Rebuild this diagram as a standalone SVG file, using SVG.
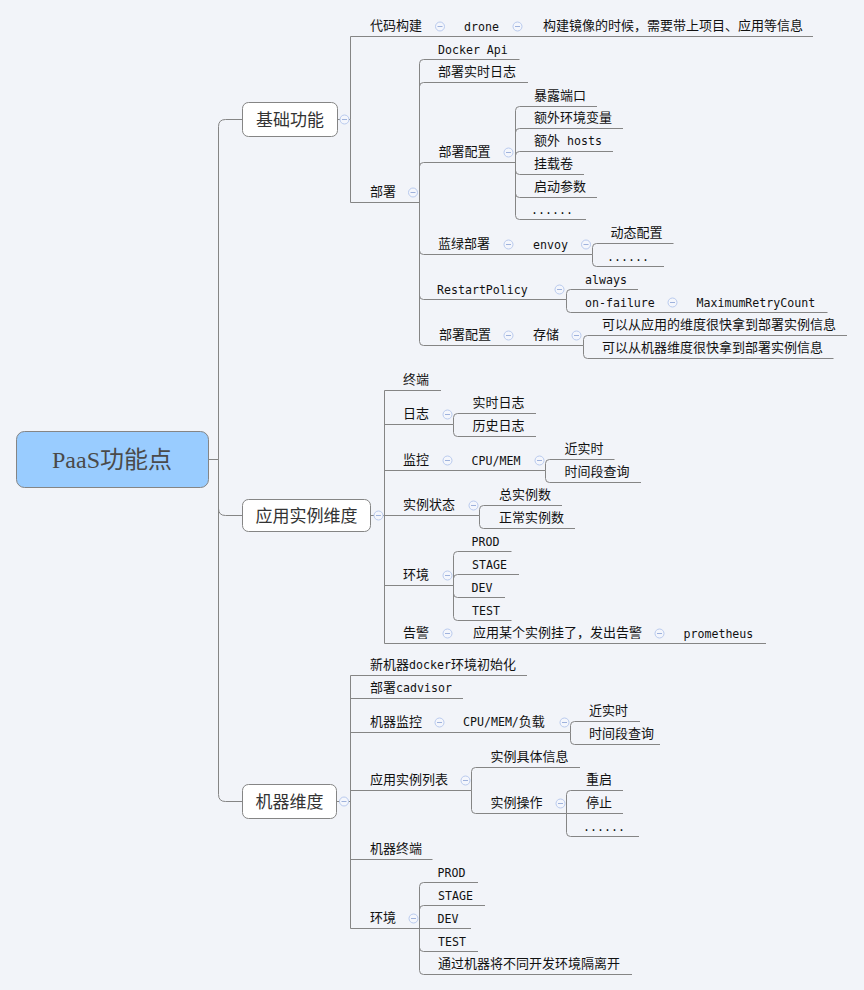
<svg xmlns="http://www.w3.org/2000/svg" width="864" height="990" viewBox="0 0 864 990">
<style>
.ln{fill:none;stroke:#858585;stroke-width:1}
.box{fill:#fff;stroke:#858585;stroke-width:1}
.root{fill:#99ccff;stroke:#858585;stroke-width:1}
.t{font-family:"Noto Sans CJK SC","Noto Sans",sans-serif;font-size:13px;fill:#111}
.en{font-family:"DejaVu Sans Mono","Liberation Mono",monospace;font-size:11.6px}
.mt{font-family:"Noto Sans CJK SC","Noto Sans",sans-serif;font-size:17px;fill:#333;text-anchor:middle}
.rt{font-family:"Liberation Serif","Noto Sans CJK SC",serif;font-size:24px;fill:#4a4a4a;text-anchor:middle}
.mk circle{fill:#f4f6fc;stroke:#b9caee;stroke-width:1}
.mk path{stroke:#9fb2dc;stroke-width:1}
</style>
<defs>
<g id="m" class="mk"><circle r="4.5"/><path d="M-2.5 0H2.5"/></g>
</defs>
<rect width="864" height="990" fill="#f2f4f9"/>
<g id="connectors" class="ln">
<path d="M209 459.5H218.5M218.5 459.5V126.5Q218.5 119.5 225.5 119.5H242.5M218.5 459.5V508.5Q218.5 515.5 225.5 515.5H242.5M218.5 459.5V794.5Q218.5 801.5 225.5 801.5H242.5"/>
<path d="M337.5 119.5H350.5M350.5 119.5V36.5H813M350.5 119.5V202.5H419.5"/>
<path d="M419.5 202.5V63.5Q419.5 59.5 423.5 59.5H519.5M419.5 202.5V86.5Q419.5 82.5 423.5 82.5H528M419.5 202.5V166.5Q419.5 162.5 423.5 162.5H515.5M419.5 202.5V250.5Q419.5 254.5 423.5 254.5H592.5M419.5 202.5V295.5Q419.5 299.5 423.5 299.5H566.5M419.5 202.5V341.5Q419.5 345.5 423.5 345.5H583.5"/>
<path d="M515.5 162.5V110.5Q515.5 106.5 519.5 106.5H597M515.5 162.5V132.5Q515.5 128.5 519.5 128.5H623M515.5 162.5V155.5Q515.5 151.5 519.5 151.5H613M515.5 162.5V170.5Q515.5 174.5 519.5 174.5H584M515.5 162.5V193.5Q515.5 197.5 519.5 197.5H597M515.5 162.5V215.5Q515.5 219.5 519.5 219.5H586"/>
<path d="M592.5 254.5V247.5Q592.5 243.5 596.5 243.5H673.5M592.5 254.5V262.5Q592.5 266.5 596.5 266.5H664"/>
<path d="M566.5 299.5V293.5Q566.5 289.5 570.5 289.5H638M566.5 299.5V308.5Q566.5 312.5 570.5 312.5H827.5"/>
<path d="M583.5 345.5V339.5Q583.5 335.5 587.5 335.5H847M583.5 345.5V354.5Q583.5 358.5 587.5 358.5H833.5"/>
<path d="M370.5 515.5H479.5M384.5 515.5V390.5H441M384.5 515.5V424.5H453.5M384.5 515.5V470.5H545.5M384.5 515.5V585.5H453.5M384.5 515.5V643.5H766"/>
<path d="M453.5 424.5V417.5Q453.5 413.5 457.5 413.5H536M453.5 424.5V432.5Q453.5 436.5 457.5 436.5H536"/>
<path d="M545.5 470.5V463.5Q545.5 459.5 549.5 459.5H614.5M545.5 470.5V478.5Q545.5 482.5 549.5 482.5H641"/>
<path d="M479.5 515.5V509.5Q479.5 505.5 483.5 505.5H562M479.5 515.5V524.5Q479.5 528.5 483.5 528.5H575"/>
<path d="M453.5 585.5V555.5Q453.5 551.5 457.5 551.5H511.5M453.5 585.5V578.5Q453.5 574.5 457.5 574.5H519M453.5 585.5V593.5Q453.5 597.5 457.5 597.5H505M453.5 585.5V616.5Q453.5 620.5 457.5 620.5H511.5"/>
<path d="M336.5 801.5H350.5M350.5 801.5V675.5H527M350.5 801.5V698.5H463M350.5 801.5V732.5H570.5M350.5 801.5V790.5H471.5M350.5 801.5V859.5H432.5M350.5 801.5V928.5H419.5"/>
<path d="M570.5 732.5V725.5Q570.5 721.5 574.5 721.5H640M570.5 732.5V740.5Q570.5 744.5 574.5 744.5H660"/>
<path d="M471.5 790.5V771.5Q471.5 767.5 475.5 767.5H580M471.5 790.5V809.5Q471.5 813.5 475.5 813.5H566.5"/>
<path d="M566.5 813.5V794.5Q566.5 790.5 570.5 790.5H623M566.5 813.5H623M566.5 813.5V832.5Q566.5 836.5 570.5 836.5H639"/>
<path d="M419.5 928.5V886.5Q419.5 882.5 423.5 882.5H478M419.5 928.5V909.5Q419.5 905.5 423.5 905.5H485M419.5 928.5H471M419.5 928.5V947.5Q419.5 951.5 423.5 951.5H478M419.5 928.5V970.5Q419.5 974.5 423.5 974.5H632"/>
</g>
<g id="root"><rect class="root" x="16.5" y="431.5" width="192" height="56" rx="8"/><text class="rt" x="112" y="468">PaaS功能点</text></g>
<g id="jichu"><rect class="box" x="242.5" y="102.5" width="95" height="34" rx="6"/><text class="mt" x="290" y="125.5">基础功能</text><use href="#m" x="344.5" y="119.5"/></g>
<g id="daimagoujian"><text class="t" x="370" y="30">代码构建</text><use href="#m" x="440" y="26.5"/></g>
<g id="drone"><text class="t en" x="464" y="30.5">drone</text><use href="#m" x="517.5" y="26.5"/></g>
<g id="goujianjingxiang"><text class="t" x="543" y="30">构建镜像的时候，需要带上项目、应用等信息</text></g>
<g id="bushu"><text class="t" x="370" y="196">部署</text><use href="#m" x="413" y="192.5"/></g>
<g id="dockerapi"><text class="t en" x="438" y="53.5">Docker Api</text></g>
<g id="bushurizhi"><text class="t" x="438" y="76">部署实时日志</text></g>
<g id="bushupeizhi"><text class="t" x="438.5" y="156">部署配置</text><use href="#m" x="508.5" y="152.5"/></g>
<g id="baolu"><text class="t" x="534" y="100">暴露端口</text></g>
<g id="huanjingbianliang"><text class="t" x="534" y="122">额外环境变量</text></g>
<g id="hosts"><text class="t" x="534" y="145">额外<tspan class="en"> hosts</tspan></text></g>
<g id="guazaijuan"><text class="t" x="534" y="168">挂载卷</text></g>
<g id="qidongcanshu"><text class="t" x="534" y="191">启动参数</text></g>
<g id="etc1"><text class="t en" x="531" y="213.5">......</text></g>
<g id="lanlv"><text class="t" x="438" y="248">蓝绿部署</text><use href="#m" x="508.5" y="244.5"/></g>
<g id="envoy"><text class="t en" x="533" y="248.5">envoy</text><use href="#m" x="586" y="244.5"/></g>
<g id="dongtai"><text class="t" x="610.5" y="237">动态配置</text></g>
<g id="etc2"><text class="t en" x="607" y="260.5">......</text></g>
<g id="restart"><text class="t en" x="437" y="293.5">RestartPolicy</text><use href="#m" x="559.5" y="289.5"/></g>
<g id="always"><text class="t en" x="585" y="283.5">always</text></g>
<g id="onfailure"><text class="t en" x="585" y="306.5">on-failure</text><use href="#m" x="672.5" y="302.5"/></g>
<g id="maxretry"><text class="t en" x="696.5" y="306.5">MaximumRetryCount</text></g>
<g id="bushupeizhi2"><text class="t" x="439" y="339">部署配置</text><use href="#m" x="508.5" y="335.5"/></g>
<g id="cunchu"><text class="t" x="533" y="339">存储</text><use href="#m" x="576.5" y="335.5"/></g>
<g id="yingyongweidu"><text class="t" x="602" y="329">可以从应用的维度很快拿到部署实例信息</text></g>
<g id="jiqiweidu"><text class="t" x="602" y="352">可以从机器维度很快拿到部署实例信息</text></g>
<g id="yingyong"><rect class="box" x="242.5" y="499.5" width="128" height="32" rx="6"/><text class="mt" x="306.5" y="521.5">应用实例维度</text><use href="#m" x="378.5" y="515.5"/></g>
<g id="zhongduan"><text class="t" x="403" y="384">终端</text></g>
<g id="rizhi"><text class="t" x="403" y="418">日志</text><use href="#m" x="447.5" y="414.5"/></g>
<g id="shishirizhi"><text class="t" x="472.5" y="407">实时日志</text></g>
<g id="lishirizhi"><text class="t" x="472.5" y="430">历史日志</text></g>
<g id="jiankong"><text class="t" x="403" y="464">监控</text><use href="#m" x="447.5" y="460.5"/></g>
<g id="cpumem"><text class="t en" x="471.5" y="464.5">CPU/MEM</text><use href="#m" x="539.5" y="460.5"/></g>
<g id="jinshishi"><text class="t" x="564.5" y="453">近实时</text></g>
<g id="shijianduan"><text class="t" x="564.5" y="476">时间段查询</text></g>
<g id="shilizhuangtai"><text class="t" x="403" y="509">实例状态</text><use href="#m" x="473.5" y="505.5"/></g>
<g id="zongshili"><text class="t" x="499" y="499">总实例数</text></g>
<g id="zhengchang"><text class="t" x="499" y="522">正常实例数</text></g>
<g id="huanjing"><text class="t" x="403" y="579">环境</text><use href="#m" x="447.5" y="575.5"/></g>
<g id="prod"><text class="t en" x="471.5" y="545.5">PROD</text></g>
<g id="stage"><text class="t en" x="472" y="568.5">STAGE</text></g>
<g id="dev"><text class="t en" x="471.5" y="591.5">DEV</text></g>
<g id="test"><text class="t en" x="472" y="614.5">TEST</text></g>
<g id="gaojing"><text class="t" x="403" y="637">告警</text><use href="#m" x="447.5" y="633.5"/></g>
<g id="guale"><text class="t" x="473" y="637">应用某个实例挂了，发出告警</text><use href="#m" x="659.5" y="633.5"/></g>
<g id="prometheus"><text class="t en" x="683.5" y="637.5">prometheus</text></g>
<g id="jiqi"><rect class="box" x="242.5" y="784.5" width="94" height="34" rx="6"/><text class="mt" x="289.5" y="807.5">机器维度</text><use href="#m" x="344" y="801.5"/></g>
<g id="xinjiqi"><text class="t" x="370" y="669">新机器<tspan class="en">docker</tspan>环境初始化</text></g>
<g id="cadvisor"><text class="t" x="370" y="692">部署<tspan class="en">cadvisor</tspan></text></g>
<g id="jiqijiankong"><text class="t" x="370" y="726">机器监控</text><use href="#m" x="439.5" y="722.5"/></g>
<g id="cpumemfuzai"><text class="t" x="463" y="726"><tspan class="en">CPU/MEM/</tspan>负载</text><use href="#m" x="564.5" y="722.5"/></g>
<g id="jinshishi2"><text class="t" x="589" y="715">近实时</text></g>
<g id="shijianduan2"><text class="t" x="589" y="738">时间段查询</text></g>
<g id="shililiebiao"><text class="t" x="370" y="784">应用实例列表</text><use href="#m" x="465.5" y="780.5"/></g>
<g id="shilijuti"><text class="t" x="490.5" y="761">实例具体信息</text></g>
<g id="shilicaozuo"><text class="t" x="490.5" y="807">实例操作</text><use href="#m" x="560.5" y="803.5"/></g>
<g id="chongqi"><text class="t" x="586" y="784">重启</text></g>
<g id="tingzhi"><text class="t" x="586" y="807">停止</text></g>
<g id="etc3"><text class="t en" x="583" y="830.5">......</text></g>
<g id="jiqizhongduan"><text class="t" x="370" y="853">机器终端</text></g>
<g id="huanjing2"><text class="t" x="370" y="922">环境</text><use href="#m" x="413.5" y="918.5"/></g>
<g id="prod2"><text class="t en" x="437.5" y="876.5">PROD</text></g>
<g id="stage2"><text class="t en" x="438" y="899.5">STAGE</text></g>
<g id="dev2"><text class="t en" x="437.5" y="922.5">DEV</text></g>
<g id="test2"><text class="t en" x="438" y="945.5">TEST</text></g>
<g id="geli"><text class="t" x="438" y="968">通过机器将不同开发环境隔离开</text></g>
</svg>
